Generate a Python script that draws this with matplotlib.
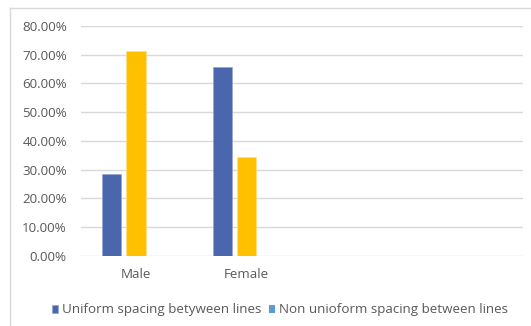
import matplotlib
matplotlib.use("Agg")
from matplotlib import pyplot as plt
from matplotlib.lines import Line2D
from matplotlib.ticker import PercentFormatter
import numpy as np

categories = ["Male", "Female", "", ""]
uniform = [0.2857, 0.6571, np.nan, np.nan]
second = [0.7143, 0.3429, np.nan, np.nan]
non_uniform = [np.nan, np.nan, np.nan, np.nan]
y_ticks = [0.0, 0.1, 0.2, 0.3, 0.4, 0.5, 0.6, 0.7, 0.8]

plt.rcParams["font.family"] = ["Open Sans", "DejaVu Sans"]
text_color = "#595959"
grid_color = "#D9D9D9"

W, H = 531, 326
fig = plt.figure(figsize=(W / 100, H / 100), dpi=100)
ax = fig.add_axes([80.7 / W, (H - 255.7) / H, 442.3 / W, 229.7 / H])

x = np.arange(len(categories))
bw = 0.175
step = 0.22
b1 = ax.bar(x - step, uniform, bw, color="#4A66AC", edgecolor="#8FA3D6", linewidth=0.4,
            label="Uniform spacing betyween lines", zorder=3)
b2 = ax.bar(x, second, bw, color="#FFC000", edgecolor="#FFE08A", linewidth=0.4, zorder=3)
b3 = ax.bar(x + step, non_uniform, bw, color="#5B9BD5",
            label="Non unioform spacing between lines", zorder=3)

ax.set_xlim(-0.5, len(categories) - 0.5)
ax.set_ylim(0, 0.8)
ax.set_yticks(y_ticks)
ax.yaxis.set_major_formatter(PercentFormatter(1.0, decimals=2))
ax.set_xticks(x)
ax.set_xticklabels(categories)
ax.tick_params(length=0, colors=text_color, labelsize=9.6)
ax.tick_params(axis="y", pad=10)
ax.tick_params(axis="x", pad=8.5)
ax.grid(axis="y", color=grid_color, linewidth=1.0, zorder=0)
for s in ax.spines.values():
    s.set_visible(False)

# chart frame (only top and left edges fall inside the canvas)
fig.add_artist(Line2D([10 / W, 10 / W], [0, 1 - 8 / H], color=grid_color, lw=1.0,
                      transform=fig.transFigure))
fig.add_artist(Line2D([10 / W, 1], [1 - 8 / H, 1 - 8 / H], color=grid_color, lw=1.0,
                      transform=fig.transFigure))

fig.legend(handles=[b1, b3], loc="center", bbox_to_anchor=(280 / W, 1 - 310 / H),
           ncol=2, frameon=False, fontsize=9.6, labelcolor=text_color,
           handlelength=0.5, handleheight=0.5, handletextpad=0.3, columnspacing=0.5)

fig.savefig("out.png", dpi=100, facecolor="white")
